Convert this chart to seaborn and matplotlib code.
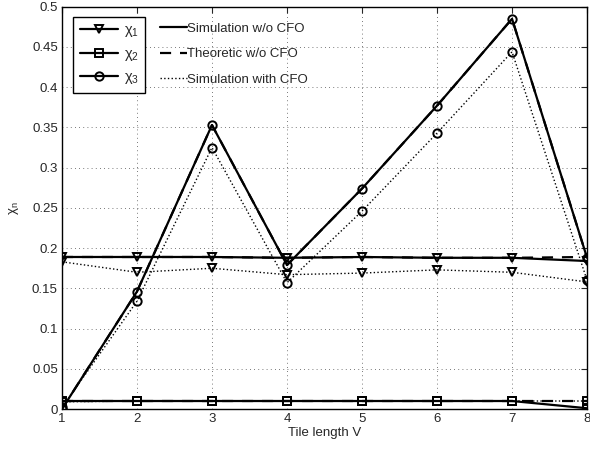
import numpy as np
import pandas as pd
import seaborn as sns
import matplotlib
matplotlib.use("Agg")
import matplotlib.pyplot as plt
from matplotlib.lines import Line2D

# Tile lengths
tile_length = [1, 2, 3, 4, 5, 6, 7, 8]

# Simulation without CFO
chi1_sim = [0.189, 0.189, 0.189, 0.188, 0.189, 0.188, 0.188, 0.184]
chi2_sim = [0.010, 0.010, 0.010, 0.010, 0.010, 0.010, 0.010, 0.001]
chi3_sim = [0.000, 0.146, 0.353, 0.179, 0.274, 0.377, 0.485, 0.188]

# Theoretic without CFO
chi1_theo = [0.189, 0.189, 0.189, 0.188, 0.189, 0.188, 0.188, 0.189]
chi2_theo = [0.010, 0.010, 0.010, 0.010, 0.010, 0.010, 0.010, 0.010]
chi3_theo = [0.000, 0.146, 0.353, 0.179, 0.274, 0.377, 0.485, 0.188]

# Simulation with CFO
chi1_cfo = [0.183, 0.170, 0.175, 0.167, 0.169, 0.173, 0.170, 0.158]
chi2_cfo = [0.009, 0.010, 0.010, 0.010, 0.010, 0.010, 0.010, 0.010]
chi3_cfo = [0.002, 0.134, 0.325, 0.157, 0.246, 0.343, 0.444, 0.160]

series_labels = [r"$\chi_1$", r"$\chi_2$", r"$\chi_3$"]
case_labels = ["Simulation w/o CFO", "Theoretic w/o CFO", "Simulation with CFO"]
y_ticks = [0, 0.05, 0.1, 0.15, 0.2, 0.25, 0.3, 0.35, 0.4, 0.45, 0.5]
y_tick_labels = ["0", "0.05", "0.1", "0.15", "0.2", "0.25", "0.3", "0.35", "0.4", "0.45", "0.5"]

sns.set_style("white")
plt.rcParams["font.family"] = ["Liberation Sans", "DejaVu Sans"]
plt.rcParams["mathtext.default"] = "regular"

fig = plt.figure(figsize=(5.9, 4.51), dpi=100)
ax = fig.add_axes([0.105, 0.093, 0.89, 0.892])

markers = ["v", "s", "o"]
groups = [
    (chi1_sim, chi1_theo, chi1_cfo),
    (chi2_sim, chi2_theo, chi2_cfo),
    (chi3_sim, chi3_theo, chi3_cfo),
]

mk = dict(markersize=6, markeredgewidth=1.4, fillstyle="none", clip_on=True)
for m, (sim, theo, cfo) in zip(markers, groups):
    sns.lineplot(x=tile_length, y=cfo, ax=ax, color="black", linestyle=":",
                 linewidth=1.0, marker=m, markeredgecolor="black", **mk)
    sns.lineplot(x=tile_length, y=theo, ax=ax, color="black", linestyle=(0, (5, 4)),
                 linewidth=1.6, marker=None)
    sns.lineplot(x=tile_length, y=sim, ax=ax, color="black", linestyle="-",
                 linewidth=1.6, marker=m, markeredgecolor="black", **mk)

ax.set_xlim(1, 8)
ax.set_ylim(0, 0.5)
ax.set_xticks(tile_length)
ax.set_yticks(y_ticks)
ax.set_yticklabels(y_tick_labels)
ax.grid(True, color="black", linestyle=(0, (1, 4)), linewidth=0.6, alpha=0.7)
ax.tick_params(direction="in", length=4, width=0.8, labelsize=9.5,
               top=True, right=True, pad=3)
for s in ax.spines.values():
    s.set_color("black")
    s.set_linewidth(1.0)
ax.set_xlabel("Tile length V", fontsize=9.5, labelpad=1)
ax.set_ylabel(r"$\chi_n$", fontsize=9.5, labelpad=8)

# Legend for the three quantities
h1 = [Line2D([], [], color="black", linewidth=1.6, marker=m, markersize=6,
             markeredgewidth=1.4, fillstyle="none") for m in markers]
leg1 = ax.legend(h1, series_labels, loc="upper left", bbox_to_anchor=(0.008, 0.993),
                 fontsize=10.5, frameon=True, fancybox=False, edgecolor="black",
                 framealpha=1, handlelength=2.6, handletextpad=0.4,
                 labelspacing=0.5, borderpad=0.45)
leg1.get_frame().set_linewidth(1.0)
ax.add_artist(leg1)

# Legend for the line styles
h2 = [Line2D([], [], color="black", linewidth=1.6, linestyle="-"),
      Line2D([], [], color="black", linewidth=1.6, linestyle=(0, (5, 4))),
      Line2D([], [], color="black", linewidth=1.0, linestyle=":")]
leg2 = ax.legend(h2, case_labels, loc="upper left", bbox_to_anchor=(0.165, 0.99),
                 fontsize=9.5, frameon=False, handlelength=2.0,
                 handletextpad=0.0, labelspacing=1.0, borderpad=0.4)

fig.savefig("out.png", dpi=100)
